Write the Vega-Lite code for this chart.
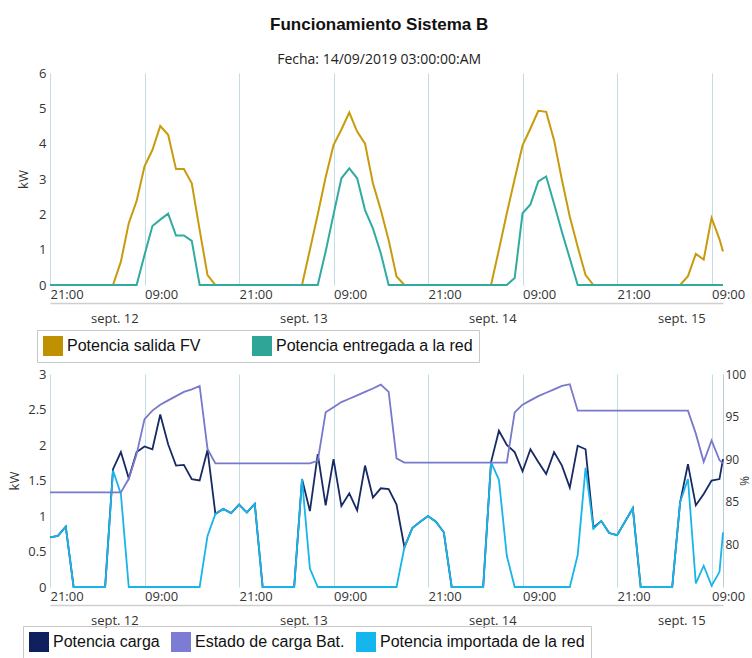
{
  "$schema": "https://vega.github.io/schema/vega-lite/v6.json",
  "padding": {"left": 8, "top": 16, "right": 8, "bottom": 0},
  "title": {
    "text": "Funcionamiento Sistema B",
    "subtitle": "Fecha: 14/09/2019 03:00:00:AM",
    "anchor": "middle",
    "font": "Liberation Sans",
    "fontSize": 17,
    "fontWeight": "bold",
    "color": "#111111",
    "subtitleFont": "Open Sans",
    "subtitleFontSize": 14,
    "subtitleColor": "#222222",
    "subtitlePadding": 19,
    "offset": -1
  },
  "config": {
    "view": {"stroke": null},
    "axis": {
      "labelFont": "Open Sans",
      "labelFontSize": 13,
      "labelColor": "#333333",
      "titleFont": "Open Sans",
      "titleFontSize": 13,
      "titleFontWeight": "normal",
      "titleColor": "#333333"
    }
  },
  "spacing": 5,
  "resolve": {"scale": {"color": "independent"}, "legend": {"color": "independent"}},
  "datasets": {
    "d": [
      {"t": "2019-09-11T21:00", "fv": 0, "red": 0, "imp": 0.70, "carga": 0.70, "soc": 86.1},
      {"t": "2019-09-11T22:00", "fv": 0, "red": 0, "imp": 0.72, "carga": 0.72, "soc": 86.1},
      {"t": "2019-09-11T23:00", "fv": 0, "red": 0, "imp": 0.85, "carga": 0.85, "soc": 86.1},
      {"t": "2019-09-12T00:00", "fv": 0, "red": 0, "imp": 0, "carga": 0, "soc": 86.1},
      {"t": "2019-09-12T01:00", "fv": 0, "red": 0, "imp": 0, "carga": 0, "soc": 86.1},
      {"t": "2019-09-12T02:00", "fv": 0, "red": 0, "imp": 0, "carga": 0, "soc": 86.1},
      {"t": "2019-09-12T03:00", "fv": 0, "red": 0, "imp": 0, "carga": 0, "soc": 86.1},
      {"t": "2019-09-12T04:00", "fv": 0, "red": 0, "imp": 0, "carga": 0, "soc": 86.1},
      {"t": "2019-09-12T05:00", "fv": 0, "red": 0, "imp": 1.64, "carga": 1.66, "soc": 86.1},
      {"t": "2019-09-12T06:00", "fv": 0.66, "red": 0, "imp": 1.31, "carga": 1.9, "soc": 86.1},
      {"t": "2019-09-12T07:00", "fv": 1.75, "red": 0, "imp": 0, "carga": 1.53, "soc": 87.7},
      {"t": "2019-09-12T08:00", "fv": 2.38, "red": 0, "imp": 0, "carga": 1.9, "soc": 90.6},
      {"t": "2019-09-12T09:00", "fv": 3.36, "red": 0.85, "imp": 0, "carga": 1.98, "soc": 94.7},
      {"t": "2019-09-12T10:00", "fv": 3.82, "red": 1.67, "imp": 0, "carga": 1.94, "soc": 95.7},
      {"t": "2019-09-12T11:00", "fv": 4.5, "red": 1.85, "imp": 0, "carga": 2.43, "soc": 96.4},
      {"t": "2019-09-12T12:00", "fv": 4.25, "red": 2.02, "imp": 0, "carga": 2.01, "soc": 96.9},
      {"t": "2019-09-12T13:00", "fv": 3.28, "red": 1.4, "imp": 0, "carga": 1.71, "soc": 97.4},
      {"t": "2019-09-12T14:00", "fv": 3.28, "red": 1.4, "imp": 0, "carga": 1.72, "soc": 97.9},
      {"t": "2019-09-12T15:00", "fv": 2.88, "red": 1.25, "imp": 0, "carga": 1.52, "soc": 98.2},
      {"t": "2019-09-12T16:00", "fv": 1.56, "red": 0, "imp": 0, "carga": 1.5, "soc": 98.6},
      {"t": "2019-09-12T17:00", "fv": 0.28, "red": 0, "imp": 0.72, "carga": 1.93, "soc": 91.2},
      {"t": "2019-09-12T18:00", "fv": 0, "red": 0, "imp": 1.03, "carga": 1.03, "soc": 89.5},
      {"t": "2019-09-12T19:00", "fv": 0, "red": 0, "imp": 1.1, "carga": 1.1, "soc": 89.5},
      {"t": "2019-09-12T20:00", "fv": 0, "red": 0, "imp": 1.04, "carga": 1.04, "soc": 89.5},
      {"t": "2019-09-12T21:00", "fv": 0, "red": 0, "imp": 1.16, "carga": 1.16, "soc": 89.5},
      {"t": "2019-09-12T22:00", "fv": 0, "red": 0, "imp": 1.05, "carga": 1.05, "soc": 89.5},
      {"t": "2019-09-12T23:00", "fv": 0, "red": 0, "imp": 1.17, "carga": 1.17, "soc": 89.5},
      {"t": "2019-09-13T00:00", "fv": 0, "red": 0, "imp": 0, "carga": 0, "soc": 89.5},
      {"t": "2019-09-13T01:00", "fv": 0, "red": 0, "imp": 0, "carga": 0, "soc": 89.5},
      {"t": "2019-09-13T02:00", "fv": 0, "red": 0, "imp": 0, "carga": 0, "soc": 89.5},
      {"t": "2019-09-13T03:00", "fv": 0, "red": 0, "imp": 0, "carga": 0, "soc": 89.5},
      {"t": "2019-09-13T04:00", "fv": 0, "red": 0, "imp": 0, "carga": 0, "soc": 89.5},
      {"t": "2019-09-13T05:00", "fv": 0, "red": 0, "imp": 1.52, "carga": 1.52, "soc": 89.5},
      {"t": "2019-09-13T06:00", "fv": 1.0, "red": 0, "imp": 0.26, "carga": 1.07, "soc": 89.5},
      {"t": "2019-09-13T07:00", "fv": 2.0, "red": 0, "imp": 0, "carga": 1.87, "soc": 89.8},
      {"t": "2019-09-13T08:00", "fv": 3.05, "red": 0.95, "imp": 0, "carga": 1.15, "soc": 95.5},
      {"t": "2019-09-13T09:00", "fv": 3.96, "red": 2.0, "imp": 0, "carga": 1.8, "soc": 96.1},
      {"t": "2019-09-13T10:00", "fv": 4.4, "red": 3.02, "imp": 0, "carga": 1.14, "soc": 96.7},
      {"t": "2019-09-13T11:00", "fv": 4.88, "red": 3.3, "imp": 0, "carga": 1.32, "soc": 97.1},
      {"t": "2019-09-13T12:00", "fv": 4.34, "red": 3.02, "imp": 0, "carga": 1.08, "soc": 97.5},
      {"t": "2019-09-13T13:00", "fv": 4.0, "red": 2.12, "imp": 0, "carga": 1.71, "soc": 97.9},
      {"t": "2019-09-13T14:00", "fv": 2.88, "red": 1.6, "imp": 0, "carga": 1.26, "soc": 98.3},
      {"t": "2019-09-13T15:00", "fv": 2.12, "red": 0.9, "imp": 0, "carga": 1.39, "soc": 98.75},
      {"t": "2019-09-13T16:00", "fv": 1.27, "red": 0, "imp": 0, "carga": 1.38, "soc": 97.9},
      {"t": "2019-09-13T17:00", "fv": 0.24, "red": 0, "imp": 0, "carga": 1.16, "soc": 90.1},
      {"t": "2019-09-13T18:00", "fv": 0, "red": 0, "imp": 0.56, "carga": 0.56, "soc": 89.6},
      {"t": "2019-09-13T19:00", "fv": 0, "red": 0, "imp": 0.83, "carga": 0.83, "soc": 89.6},
      {"t": "2019-09-13T20:00", "fv": 0, "red": 0, "imp": 0.92, "carga": 0.92, "soc": 89.6},
      {"t": "2019-09-13T21:00", "fv": 0, "red": 0, "imp": 1.0, "carga": 1.0, "soc": 89.6},
      {"t": "2019-09-13T22:00", "fv": 0, "red": 0, "imp": 0.92, "carga": 0.92, "soc": 89.6},
      {"t": "2019-09-13T23:00", "fv": 0, "red": 0, "imp": 0.77, "carga": 0.77, "soc": 89.6},
      {"t": "2019-09-14T00:00", "fv": 0, "red": 0, "imp": 0, "carga": 0, "soc": 89.6},
      {"t": "2019-09-14T01:00", "fv": 0, "red": 0, "imp": 0, "carga": 0, "soc": 89.6},
      {"t": "2019-09-14T02:00", "fv": 0, "red": 0, "imp": 0, "carga": 0, "soc": 89.6},
      {"t": "2019-09-14T03:00", "fv": 0, "red": 0, "imp": 0, "carga": 0, "soc": 89.6},
      {"t": "2019-09-14T04:00", "fv": 0, "red": 0, "imp": 0, "carga": 0, "soc": 89.6},
      {"t": "2019-09-14T05:00", "fv": 0, "red": 0, "imp": 1.76, "carga": 1.76, "soc": 89.6},
      {"t": "2019-09-14T06:00", "fv": 1.0, "red": 0, "imp": 1.51, "carga": 2.2, "soc": 89.6},
      {"t": "2019-09-14T07:00", "fv": 2.03, "red": 0, "imp": 0.44, "carga": 2.0, "soc": 89.6},
      {"t": "2019-09-14T08:00", "fv": 3.0, "red": 0.2, "imp": 0, "carga": 1.9, "soc": 95.5},
      {"t": "2019-09-14T09:00", "fv": 3.95, "red": 2.03, "imp": 0, "carga": 1.63, "soc": 96.4},
      {"t": "2019-09-14T10:00", "fv": 4.43, "red": 2.28, "imp": 0, "carga": 1.94, "soc": 96.9},
      {"t": "2019-09-14T11:00", "fv": 4.93, "red": 2.93, "imp": 0, "carga": 1.76, "soc": 97.4},
      {"t": "2019-09-14T12:00", "fv": 4.9, "red": 3.07, "imp": 0, "carga": 1.59, "soc": 97.8},
      {"t": "2019-09-14T13:00", "fv": 4.1, "red": 2.3, "imp": 0, "carga": 1.9, "soc": 98.2},
      {"t": "2019-09-14T14:00", "fv": 2.97, "red": 1.5, "imp": 0, "carga": 1.71, "soc": 98.6},
      {"t": "2019-09-14T15:00", "fv": 1.93, "red": 0.75, "imp": 0, "carga": 1.4, "soc": 98.8},
      {"t": "2019-09-14T16:00", "fv": 1.08, "red": 0, "imp": 0.45, "carga": 1.99, "soc": 95.7},
      {"t": "2019-09-14T17:00", "fv": 0.28, "red": 0, "imp": 1.68, "carga": 1.94, "soc": 95.7},
      {"t": "2019-09-14T18:00", "fv": 0, "red": 0, "imp": 0.82, "carga": 0.84, "soc": 95.7},
      {"t": "2019-09-14T19:00", "fv": 0, "red": 0, "imp": 0.93, "carga": 0.93, "soc": 95.7},
      {"t": "2019-09-14T20:00", "fv": 0, "red": 0, "imp": 0.76, "carga": 0.76, "soc": 95.7},
      {"t": "2019-09-14T21:00", "fv": 0, "red": 0, "imp": 0.73, "carga": 0.73, "soc": 95.7},
      {"t": "2019-09-14T22:00", "fv": 0, "red": 0, "imp": 0.92, "carga": 0.92, "soc": 95.7},
      {"t": "2019-09-14T23:00", "fv": 0, "red": 0, "imp": 1.11, "carga": 1.11, "soc": 95.7},
      {"t": "2019-09-15T00:00", "fv": 0, "red": 0, "imp": 0, "carga": 0, "soc": 95.7},
      {"t": "2019-09-15T01:00", "fv": 0, "red": 0, "imp": 0, "carga": 0, "soc": 95.7},
      {"t": "2019-09-15T02:00", "fv": 0, "red": 0, "imp": 0, "carga": 0, "soc": 95.7},
      {"t": "2019-09-15T03:00", "fv": 0, "red": 0, "imp": 0, "carga": 0, "soc": 95.7},
      {"t": "2019-09-15T04:00", "fv": 0, "red": 0, "imp": 0, "carga": 0, "soc": 95.7},
      {"t": "2019-09-15T05:00", "fv": 0, "red": 0, "imp": 1.19, "carga": 1.19, "soc": 95.7},
      {"t": "2019-09-15T06:00", "fv": 0.25, "red": 0, "imp": 1.52, "carga": 1.73, "soc": 95.7},
      {"t": "2019-09-15T07:00", "fv": 0.88, "red": 0, "imp": 0.05, "carga": 1.15, "soc": 93.0},
      {"t": "2019-09-15T08:00", "fv": 0.72, "red": 0, "imp": 0.3, "carga": 1.31, "soc": 89.7},
      {"t": "2019-09-15T09:00", "fv": 1.9, "red": 0, "imp": 0.02, "carga": 1.5, "soc": 92.2},
      {"t": "2019-09-15T10:00", "fv": 1.3, "red": 0, "imp": 0.21, "carga": 1.52, "soc": 89.9},
      {"t": "2019-09-15T10:27", "fv": 0.95, "red": 0, "imp": 0.77, "carga": 1.8, "soc": 89.5}
    ]
  },
  "vconcat": [
    {
      "width": 673,
      "height": 212,
      "data": {"name": "d"},
      "layer": [
        {
          "transform": [{"fold": ["fv", "red"], "as": ["serie", "val"]}],
          "mark": {"type": "line", "strokeWidth": 2},
          "encoding": {
            "x": {
              "field": "t", "type": "temporal",
              "scale": {"domain": [{"year": 2019, "month": 9, "date": 11, "hours": 21}, {"year": 2019, "month": 9, "date": 15, "hours": 10, "minutes": 27}]},
              "axis": {
                "values": [
                  {"year": 2019, "month": 9, "date": 11, "hours": 21},
                  {"year": 2019, "month": 9, "date": 12, "hours": 9},
                  {"year": 2019, "month": 9, "date": 12, "hours": 21},
                  {"year": 2019, "month": 9, "date": 13, "hours": 9},
                  {"year": 2019, "month": 9, "date": 13, "hours": 21},
                  {"year": 2019, "month": 9, "date": 14, "hours": 9},
                  {"year": 2019, "month": 9, "date": 14, "hours": 21},
                  {"year": 2019, "month": 9, "date": 15, "hours": 9}
                ],
                "labelExpr": "timeFormat(datum.value, '%H:%M')",
                "labelAlign": "left", "labelFlush": false, "labelOverlap": false, "labelPadding": 3,
                "ticks": false, "domain": false, "grid": true, "gridColor": "#c3dde5", "title": null
              }
            },
            "y": {
              "field": "val", "type": "quantitative",
              "scale": {"domain": [0, 6]},
              "axis": {"values": [0, 1, 2, 3, 4, 5, 6], "title": "kW", "grid": false, "ticks": false, "domain": false, "labelPadding": 4, "titlePadding": 8}
            },
            "color": {
              "field": "serie", "type": "nominal",
              "scale": {"domain": ["fv", "red"], "range": ["#c89b0c", "#31aba0"]},
              "legend": {
                "orient": "none", "legendX": -13, "legendY": 257, "direction": "horizontal", "title": null,
                "symbolType": "square", "symbolSize": 400, "symbolStrokeWidth": 0, "symbolOpacity": 1,
                "labelFont": "Liberation Sans", "labelFontSize": 16, "labelColor": "#111111", "labelOffset": 4, "labelLimit": 400,
                "columnPadding": 51, "padding": 6, "strokeColor": "#c8c8c8",
                "labelExpr": "datum.label == 'fv' ? 'Potencia salida FV' : 'Potencia entregada a la red'",
                "encode": {"symbols": {"update": {"fill": {"signal": "datum.value == 'fv' ? '#bf9000' : '#2ea597'"}, "fillOpacity": {"value": 1}, "strokeWidth": {"value": 0}}}}
              }
            }
          }
        },
        {
          "mark": {"type": "rule", "opacity": 0},
          "encoding": {
            "x": {
              "field": "t", "type": "temporal",
              "scale": {"domain": [{"year": 2019, "month": 9, "date": 11, "hours": 21}, {"year": 2019, "month": 9, "date": 15, "hours": 10, "minutes": 27}]},
              "axis": {
                "orient": "bottom", "offset": 18,
                "values": [
                  {"year": 2019, "month": 9, "date": 12, "hours": 5, "minutes": 10},
                  {"year": 2019, "month": 9, "date": 13, "hours": 5, "minutes": 10},
                  {"year": 2019, "month": 9, "date": 14, "hours": 5, "minutes": 10},
                  {"year": 2019, "month": 9, "date": 15, "hours": 5, "minutes": 10}
                ],
                "labelExpr": "'sept. ' + date(datum.value)",
                "labelAlign": "center", "labelFlush": false, "labelOverlap": false, "labelPadding": 9,
                "ticks": false, "domain": true, "domainColor": "#cfcfcf", "domainWidth": 1.5, "grid": false, "title": null
              }
            }
          }
        }
      ],
      "resolve": {"scale": {"x": "independent"}, "axis": {"x": "independent"}}
    },
    {
      "width": 673,
      "height": 213,
      "data": {"name": "d"},
      "layer": [
        {
          "transform": [{"fold": ["carga"], "as": ["serie", "val"]}],
          "mark": {"type": "line", "strokeWidth": 1.8},
          "encoding": {
            "x": {
              "field": "t", "type": "temporal",
              "scale": {"domain": [{"year": 2019, "month": 9, "date": 11, "hours": 21}, {"year": 2019, "month": 9, "date": 15, "hours": 10, "minutes": 27}]},
              "axis": {
                "values": [
                  {"year": 2019, "month": 9, "date": 11, "hours": 21},
                  {"year": 2019, "month": 9, "date": 12, "hours": 9},
                  {"year": 2019, "month": 9, "date": 12, "hours": 21},
                  {"year": 2019, "month": 9, "date": 13, "hours": 9},
                  {"year": 2019, "month": 9, "date": 13, "hours": 21},
                  {"year": 2019, "month": 9, "date": 14, "hours": 9},
                  {"year": 2019, "month": 9, "date": 14, "hours": 21},
                  {"year": 2019, "month": 9, "date": 15, "hours": 9}
                ],
                "labelExpr": "timeFormat(datum.value, '%H:%M')",
                "labelAlign": "left", "labelFlush": false, "labelOverlap": false, "labelPadding": 3,
                "ticks": false, "domain": false, "grid": true, "gridColor": "#c3dde5", "title": null
              }
            },
            "y": {
              "field": "val", "type": "quantitative",
              "scale": {"domain": [0, 3]},
              "axis": {"values": [0, 0.5, 1, 1.5, 2, 2.5, 3], "format": "~g", "title": "kW", "grid": false, "ticks": false, "domain": false, "labelPadding": 4, "titlePadding": 6}
            },
            "color": {
              "field": "serie", "type": "nominal",
              "scale": {"domain": ["carga", "soc", "imp"], "range": ["#172a63", "#7878cc", "#18b4ea"]},
              "legend": {
                "orient": "none", "legendX": -27, "legendY": 252, "direction": "horizontal", "title": null,
                "symbolType": "square", "symbolSize": 400, "symbolStrokeWidth": 0, "symbolOpacity": 1,
                "labelFont": "Liberation Sans", "labelFontSize": 16, "labelColor": "#111111", "labelOffset": 4, "labelLimit": 400,
                "columnPadding": 11, "padding": 6, "strokeColor": "#c8c8c8",
                "labelExpr": "datum.label == 'carga' ? 'Potencia carga' : datum.label == 'soc' ? 'Estado de carga Bat.' : 'Potencia importada de la red'",
                "encode": {"symbols": {"update": {"fill": {"signal": "datum.value == 'carga' ? '#0f205c' : datum.value == 'soc' ? '#7c7cd4' : '#14b6ee'"}, "fillOpacity": {"value": 1}, "strokeWidth": {"value": 0}}}}
              }
            }
          }
        },
        {
          "transform": [{"fold": ["imp"], "as": ["serie", "val"]}],
          "mark": {"type": "line", "strokeWidth": 1.8},
          "encoding": {
            "x": {"field": "t", "type": "temporal", "scale": {"domain": [{"year": 2019, "month": 9, "date": 11, "hours": 21}, {"year": 2019, "month": 9, "date": 15, "hours": 10, "minutes": 27}]}, "axis": null},
            "y": {"field": "val", "type": "quantitative", "scale": {"domain": [0, 3]}, "axis": null},
            "color": {"field": "serie", "type": "nominal", "scale": {"domain": ["carga", "soc", "imp"], "range": ["#172a63", "#7878cc", "#18b4ea"]}}
          }
        },
        {
          "transform": [{"fold": ["soc"], "as": ["serie", "val"]}],
          "mark": {"type": "line", "strokeWidth": 1.8},
          "encoding": {
            "x": {"field": "t", "type": "temporal", "scale": {"domain": [{"year": 2019, "month": 9, "date": 11, "hours": 21}, {"year": 2019, "month": 9, "date": 15, "hours": 10, "minutes": 27}]}, "axis": null},
            "y": {
              "field": "val", "type": "quantitative", "scale": {"domain": [75, 100]},
              "axis": {"orient": "right", "values": [80, 85, 90, 95, 100], "title": "%", "titleFontSize": 12, "labelFontSize": 12, "grid": false, "ticks": false, "domain": true, "domainColor": "#b9cdd6", "labelPadding": 2, "titlePadding": -9}
            },
            "color": {"field": "serie", "type": "nominal", "scale": {"domain": ["carga", "soc", "imp"], "range": ["#172a63", "#7878cc", "#18b4ea"]}}
          }
        },
        {
          "mark": {"type": "rule", "opacity": 0},
          "encoding": {
            "x": {
              "field": "t", "type": "temporal",
              "scale": {"domain": [{"year": 2019, "month": 9, "date": 11, "hours": 21}, {"year": 2019, "month": 9, "date": 15, "hours": 10, "minutes": 27}]},
              "axis": {
                "orient": "bottom", "offset": 18,
                "values": [
                  {"year": 2019, "month": 9, "date": 12, "hours": 5, "minutes": 10},
                  {"year": 2019, "month": 9, "date": 13, "hours": 5, "minutes": 10},
                  {"year": 2019, "month": 9, "date": 14, "hours": 5, "minutes": 10},
                  {"year": 2019, "month": 9, "date": 15, "hours": 5, "minutes": 10}
                ],
                "labelExpr": "'sept. ' + date(datum.value)",
                "labelAlign": "center", "labelFlush": false, "labelOverlap": false, "labelPadding": 9,
                "ticks": false, "domain": true, "domainColor": "#cfcfcf", "domainWidth": 1.5, "grid": false, "title": null
              }
            }
          }
        }
      ],
      "resolve": {"scale": {"x": "independent", "y": "independent"}, "axis": {"x": "independent", "y": "independent"}}
    }
  ]
}
